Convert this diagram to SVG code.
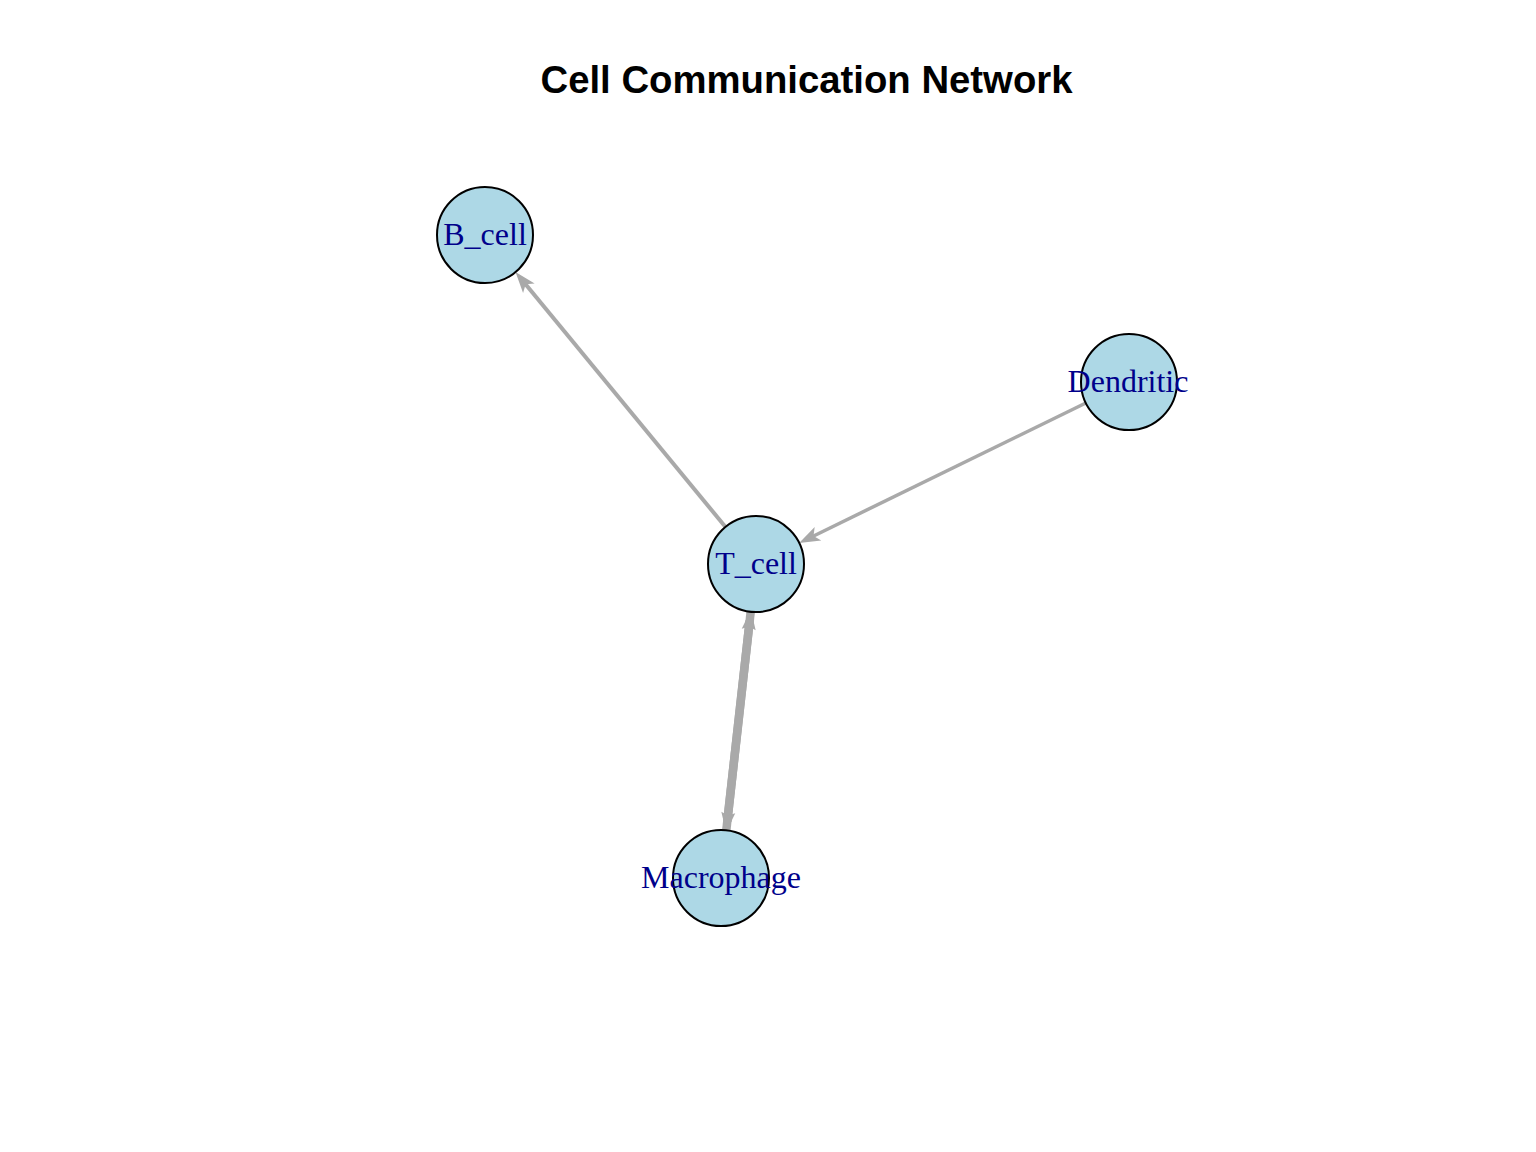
<svg xmlns="http://www.w3.org/2000/svg" width="1536" height="1152" viewBox="0 0 1536 1152">
<style>
.edge{stroke:#A9A9A9;fill:none}
.node{fill:#ADD8E6;stroke:#000;stroke-width:2}
.lbl{font-family:"Liberation Serif","Times New Roman",serif;font-size:32px;fill:#00008B;text-anchor:middle}
.title{font-family:"Liberation Sans",Arial,sans-serif;font-size:38.3px;font-weight:bold;fill:#000;text-anchor:middle}
</style>
<defs>
<marker id="arr" markerUnits="userSpaceOnUse" markerWidth="21" markerHeight="15" refX="10" refY="7.5" orient="auto" overflow="visible">
<path d="M0,0 L21,7.5 L0,15 L5,7.5 Z" fill="#A9A9A9"/>
</marker>
<marker id="arrT" markerUnits="userSpaceOnUse" markerWidth="20" markerHeight="14" refX="9" refY="7" orient="auto" overflow="visible">
<path d="M0,0 L20,7 L0,14 L3,7 Z" fill="#A9A9A9"/>
</marker>
</defs>
<rect width="1536" height="1152" fill="#fff"/>
<text class="title" x="806.5" y="93">Cell Communication Network</text>
<g id="edges">
<line class="edge" stroke-width="4" x1="725.5" y1="527" x2="522.5" y2="280.5" marker-end="url(#arr)"/>
<line class="edge" stroke-width="3.5" x1="1085.8" y1="403" x2="809" y2="538.2" marker-end="url(#arr)"/>
<line class="edge" stroke-width="8.5" x1="726.3" y1="830.3" x2="749.7" y2="620.6" marker-end="url(#arrT)"/>
<line class="edge" stroke-width="8.5" x1="750.7" y1="611.7" x2="727.3" y2="821.4" marker-end="url(#arrT)"/>
</g>
<g id="node-B_cell">
<circle class="node" cx="485" cy="235" r="48"/>
<text class="lbl" x="485" y="245">B_cell</text>
</g>
<g id="node-Dendritic">
<circle class="node" cx="1129" cy="382" r="48"/>
<text class="lbl" x="1128" y="392">Dendritic</text>
</g>
<g id="node-T_cell">
<circle class="node" cx="756" cy="564" r="48"/>
<text class="lbl" x="756" y="574">T_cell</text>
</g>
<g id="node-Macrophage">
<circle class="node" cx="721" cy="878" r="48"/>
<text class="lbl" x="721" y="888">Macrophage</text>
</g>
</svg>
